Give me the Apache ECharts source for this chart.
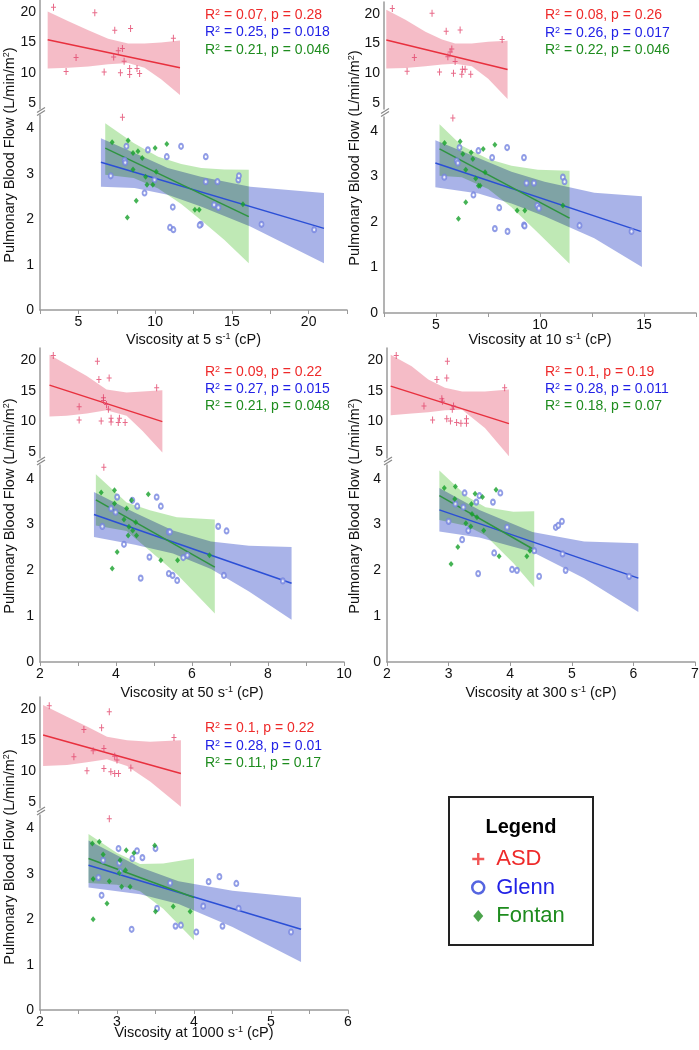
<!DOCTYPE html>
<html><head><meta charset="utf-8">
<script src="https://cdn.jsdelivr.net/npm/echarts/dist/echarts.min.js"></script>
<style>html,body{margin:0;padding:0;background:#fff}#c{width:699px;height:1050px}</style>
</head><body><div id="c"></div>
<script>
// ---------------- DATA ----------------
// Panel 1: 5 s^-1
const asd5 = [[3.38,20.8],[4.2,10.2],[4.85,12.5],[6.07,19.9],[6.68,10.1],[7.3,12.6],[7.37,17.0],[7.6,13.6],[7.74,10.0],[7.87,14.0],[7.98,11.9],[8.34,10.7],[8.34,9.7],[8.4,17.3],[8.82,10.7],[8.99,9.85],[11.19,15.7],[7.87,4.25]];
const glenn5 = [[7.11,2.96],[8.13,3.61],[8.02,3.30],[8.05,3.25],[9.53,3.53],[9.31,2.58],[9.96,2.87],[10.76,3.38],[11.69,3.61],[11.15,2.27],[10.97,1.82],[11.19,1.77],[12.98,1.89],[12.9,1.87],[13.3,3.38],[13.3,2.83],[14.06,2.83],[13.84,2.32],[14.12,2.26],[15.42,2.87],[15.46,2.96],[16.93,1.89],[20.36,1.77]];
const fontan5 = [[7.2,3.70],[8.24,3.74],[8.56,3.46],[8.88,3.50],[9.16,3.35],[8.56,3.10],[9.38,2.94],[9.47,2.76],[9.85,2.76],[10.0,3.57],[10.07,3.05],[10.76,3.66],[8.77,2.41],[8.19,2.04],[12.59,2.21],[12.87,2.21],[15.72,2.33]];
const asdFit5 = [[3.0,15.45],[11.62,10.8]];
const glennFit5 = [[6.47,3.26],[21.0,1.80]];
const fontanFit5 = [[6.75,3.57],[16.1,2.06]];
const asdBand5 = [[3.0,10.7,20.1],[4.35,10.8,18.5],[5.65,11.0,17.0],[6.94,11.4,15.6],[8.24,11.6,14.8],[9.31,10.8,14.8],[10.39,8.9,15.0],[11.62,6.3,15.3]];
const glennBand5 = [[6.47,2.72,3.79],[8.66,2.69,3.46],[10.82,2.54,3.13],[12.98,2.28,2.94],[16.2,1.84,2.72],[21.0,1.03,2.58]];
const fontanBand5 = [[6.75,2.98,4.12],[8.6,2.91,3.68],[10.2,2.68,3.38],[11.7,2.34,3.22],[13.0,1.98,3.13],[14.5,1.55,3.10],[16.1,1.03,3.09]];
const stats5 = [['0.07','0.28'],['0.25','0.018'],['0.21','0.046']];

// Panel 2: 10 s^-1
const asd10 = [[2.90,20.9],[3.61,10.36],[3.96,12.67],[4.81,20.1],[5.17,10.24],[5.49,17.1],[5.57,12.8],[5.68,13.6],[5.76,14.1],[5.84,10.0],[5.92,12.0],[6.16,17.3],[6.24,9.86],[6.27,10.7],[6.4,10.7],[6.67,9.86],[8.18,15.7],[5.81,4.28]];
const glenn10 = [[5.40,2.98],[6.13,3.63],[6.0,3.34],[6.05,3.29],[7.04,3.56],[6.8,2.59],[7.7,3.41],[8.42,3.63],[8.04,2.31],[7.83,1.85],[8.44,1.79],[9.23,3.41],[9.35,2.85],[9.71,2.85],[9.23,1.93],[9.26,1.91],[9.87,2.36],[9.95,2.30],[11.1,2.98],[11.18,2.88],[11.9,1.92],[14.4,1.79]];
const fontan10 = [[5.41,3.73],[6.16,3.76],[6.29,3.49],[6.69,3.52],[6.77,3.38],[6.43,3.14],[6.91,2.95],[7.04,2.79],[7.12,2.79],[7.27,3.6],[7.36,3.09],[7.83,3.69],[6.43,2.43],[6.08,2.07],[8.9,2.25],[9.27,2.25],[11.1,2.36]];
const asdFit10 = [[2.61,15.6],[8.44,10.64]];
const glennFit10 = [[4.97,3.29],[14.84,1.79]];
const fontanFit10 = [[5.17,3.60],[11.42,2.08]];
const asdBand10 = [[2.61,10.8,20.7],[3.53,10.9,19.0],[4.49,11.2,17.0],[5.29,11.5,15.7],[5.92,11.6,15.0],[6.72,11.2,15.0],[7.51,9.1,15.3],[8.44,5.7,15.5]];
const glennBand10 = [[4.97,2.76,3.79],[7.04,2.62,3.40],[8.63,2.40,3.10],[10.22,2.12,2.88],[12.61,1.64,2.64],[14.9,1.01,2.56]];
const fontanBand10 = [[5.17,3.01,4.14],[6.24,2.98,3.67],[7.51,2.72,3.38],[8.63,2.32,3.23],[9.9,1.76,3.14],[11.42,1.08,3.12]];
const stats10 = [['0.08','0.26'],['0.26','0.017'],['0.22','0.046']];

// Panel 3: 50 s^-1
const asd50 = [[2.35,20.77],[3.03,12.4],[3.03,10.2],[3.51,19.84],[3.55,16.85],[3.61,10.05],[3.67,13.87],[3.67,13.4],[3.75,12.77],[3.82,17.1],[3.8,11.96],[3.87,10.5],[3.87,9.9],[4.06,9.8],[4.09,10.5],[4.24,9.8],[5.07,15.5],[3.68,4.25]];
const glenn50 = [[3.64,2.96],[4.03,3.6],[3.87,3.35],[3.99,3.27],[4.56,3.4],[4.21,2.57],[5.07,3.6],[5.18,3.4],[4.88,2.29],[4.65,1.83],[5.39,2.84],[5.42,2.84],[5.39,1.93],[5.49,1.89],[5.61,1.78],[5.77,2.28],[5.88,2.33],[6.69,2.96],[6.91,2.86],[6.84,1.89],[8.39,1.77],[4.43,3.53]];
const fontan50 = [[3.61,3.7],[3.96,3.75],[3.96,3.46],[4.28,3.35],[4.21,3.11],[4.34,2.95],[4.44,2.87],[4.32,2.76],[4.54,2.76],[4.52,3.05],[4.41,3.53],[4.85,3.66],[4.03,2.4],[3.9,2.04],[5.18,2.22],[5.62,2.22],[6.46,2.33]];
const asdFit50 = [[2.25,15.92],[5.22,9.95]];
const glennFit50 = [[3.42,3.22],[8.62,1.72]];
const fontanFit50 = [[3.47,3.54],[6.6,2.07]];
const asdBand50 = [[2.25,10.8,20.9],[2.7,10.9,19.3],[3.23,11.3,17.4],[3.75,11.8,15.2],[4.28,10.9,14.7],[4.7,8.4,14.9],[5.22,4.9,15.1]];
const glennBand50 = [[3.42,2.73,3.71],[4.5,2.56,3.26],[5.5,2.37,2.87],[6.5,2.03,2.63],[7.5,1.54,2.54],[8.62,0.92,2.51]];
const fontanBand50 = [[3.47,2.98,4.10],[4.28,2.86,3.48],[4.89,2.43,3.31],[5.6,1.92,3.16],[6.6,1.06,3.11]];
const stats50 = [['0.09','0.22'],['0.27','0.015'],['0.21','0.048']];

// Panel 4: 300 s^-1
const asd300 = [[2.15,20.77],[2.6,12.5],[2.74,10.2],[2.81,16.85],[2.89,13.7],[2.9,13.3],[2.98,19.84],[2.97,17.1],[2.97,10.44],[3.03,10.05],[3.06,11.96],[3.08,12.5],[3.13,9.8],[3.2,9.67],[3.29,10.44],[3.29,9.67],[3.91,15.5],[3.0,4.35]];
const glenn300 = [[3.0,3.07],[3.26,3.69],[3.11,3.45],[3.24,3.38],[3.22,2.67],[3.45,3.49],[3.5,3.63],[3.72,3.49],[3.84,3.69],[3.74,2.38],[3.48,1.93],[3.32,2.87],[3.95,2.94],[4.03,2.02],[4.11,2.0],[4.39,2.43],[4.47,1.87],[4.74,2.94],[4.78,2.98],[4.84,3.07],[4.85,2.36],[4.9,2.0],[5.93,1.87]];
const fontan300 = [[2.93,3.8],[3.11,3.83],[3.1,3.56],[3.37,3.45],[3.38,3.23],[3.43,3.67],[3.55,3.6],[3.46,3.16],[3.28,3.03],[3.36,2.96],[3.57,2.87],[3.77,3.76],[3.15,2.51],[3.04,2.14],[3.82,2.31],[4.27,2.31],[4.32,2.43]];
const asdFit300 = [[2.06,15.76],[3.98,9.62]];
const glennFit300 = [[2.85,3.32],[6.08,1.83]];
const fontanFit300 = [[2.85,3.63],[4.39,2.45]];
const asdBand300 = [[2.06,11.0,20.9],[2.4,11.3,19.0],[2.67,11.5,16.85],[2.94,11.8,15.5],[3.22,11.9,14.9],[3.59,8.9,14.9],[3.98,4.3,15.2]];
const glennBand300 = [[2.85,2.85,3.80],[3.5,2.72,3.32],[4.36,2.40,2.84],[5.2,1.83,2.63],[6.08,1.09,2.59]];
const fontanBand300 = [[2.85,3.10,4.18],[3.3,2.97,3.61],[3.6,2.76,3.38],[4.05,2.16,3.28],[4.39,1.63,3.29]];
const stats300 = [['0.1','0.19'],['0.28','0.011'],['0.18','0.07']];

// Panel 5: 1000 s^-1
const asd1000 = [[2.12,20.6],[2.44,12.3],[2.61,10.03],[2.57,16.75],[2.69,13.3],[2.8,17.0],[2.83,10.4],[2.83,13.66],[2.9,19.6],[2.92,9.87],[2.97,12.4],[3.0,11.8],[2.97,9.6],[3.02,9.6],[3.18,10.5],[3.74,15.45],[2.9,4.22]];
const glenn1000 = [[2.76,2.92],[2.8,2.53],[2.82,3.3],[3.02,3.56],[3.03,3.24],[3.04,3.05],[3.2,3.34],[3.26,3.51],[3.33,3.36],[3.19,1.78],[3.5,3.56],[3.52,2.24],[3.69,2.8],[3.76,1.85],[3.83,1.87],[4.03,1.72],[4.12,2.29],[4.19,2.83],[4.33,2.94],[4.37,1.85],[4.55,2.79],[4.58,2.24],[5.26,1.72]];
const fontan1000 = [[2.68,3.67],[2.69,2.89],[2.69,2.0],[2.77,3.71],[2.82,3.43],[2.87,2.35],[2.9,2.84],[3.03,3.02],[3.04,3.3],[3.06,2.72],[3.12,3.52],[3.11,3.08],[3.17,2.72],[3.22,3.46],[3.49,3.63],[3.5,2.17],[3.73,2.28],[3.95,2.17]];
const asdFit1000 = [[2.04,15.83],[3.83,9.6]];
const glennFit1000 = [[2.63,3.19],[5.39,1.78]];
const fontanFit1000 = [[2.63,3.34],[4.0,2.48]];
const asdBand1000 = [[2.04,10.8,20.7],[2.35,10.96,18.8],[2.61,11.4,17.2],[2.87,11.9,15.55],[3.13,10.8,15.0],[3.43,8.3,14.74],[3.83,4.2,15.0]];
const glennBand1000 = [[2.63,2.70,3.74],[3.3,2.55,3.15],[3.8,2.34,2.84],[4.5,1.83,2.63],[5.39,1.06,2.48]];
const fontanBand1000 = [[2.63,2.80,3.88],[3.0,2.76,3.46],[3.3,2.62,3.22],[3.6,2.23,3.23],[4.0,1.54,3.34]];
const stats1000 = [['0.1','0.22'],['0.28','0.01'],['0.11','0.17']];

const groupNames = ['ASD','Glenn','Fontan'];
const shearRates = ['5','10','50','300','1000'];
const yAxisTitle = 'Pulmonary Blood Flow (L/min/m{s|2})';

// ---------------- STYLE / LAYOUT ----------------
const FONT = "'Liberation Sans', Arial, Helvetica, sans-serif";
const COL = {
  pt: ['#e2456c','#7585e0','#17a02a'],
  line: ['#e8303e','#2b4fd6','#2e9440'],
  band: ['#f5bcc7','#a9b3e8','#bfe9b5'],
  txt: ['#ee2a2a','#2222e6','#1e8c1e'],
  axis: '#9a9a9a', label: '#111'
};
const panels = [
  {asd:asd5, glenn:glenn5, fontan:fontan5, fits:[asdFit5,glennFit5,fontanFit5], bands:[asdBand5,glennBand5,fontanBand5], stats:stats5,
   x:{min:2.5,max:22.5,interval:2.5,every:5}, L:{left:40,width:307,tT:0,tH:109,bT:115,bH:195,gap:22,yx:10,yy:155,sx:205,sy:[15,32.5,50]}},
  {asd:asd10, glenn:glenn10, fontan:fontan10, fits:[asdFit10,glennFit10,fontanFit10], bands:[asdBand10,glennBand10,fontanBand10], stats:stats10,
   x:{min:2.5,max:17.5,interval:2.5,every:5}, L:{left:384,width:312,tT:2,tH:107,bT:117,bH:196,gap:19,yx:355,yy:158,sx:545,sy:[15,33,50]}},
  {asd:asd50, glenn:glenn50, fontan:fontan50, fits:[asdFit50,glennFit50,fontanFit50], bands:[asdBand50,glennBand50,fontanBand50], stats:stats50,
   x:{min:2,max:10,interval:1,every:2}, L:{left:40,width:304,tT:348,tH:110,bT:465,bH:197,gap:23,yx:10,yy:506,sx:205,sy:[371.7,389,406]}},
  {asd:asd300, glenn:glenn300, fontan:fontan300, fits:[asdFit300,glennFit300,fontanFit300], bands:[asdBand300,glennBand300,fontanBand300], stats:stats300,
   x:{min:2,max:7,interval:1,every:1}, L:{left:387,width:308,tT:348,tH:110,bT:465,bH:197,gap:23,yx:355,yy:506,sx:545,sy:[371.7,389,406]}},
  {asd:asd1000, glenn:glenn1000, fontan:fontan1000, fits:[asdFit1000,glennFit1000,fontanFit1000], bands:[asdBand1000,glennBand1000,fontanBand1000], stats:stats1000,
   x:{min:2,max:6,interval:0.5,every:1}, L:{left:40,width:308,tT:697,tH:111,bT:815,bH:195,gap:15,yx:10,yy:857,sx:205,sy:[728.3,745.7,762.7]}}
];

const SYM_PLUS = 'path://M2,0H3V7H2Z M0,3H5V4H0Z';
const symbols = [SYM_PLUS, 'emptyCircle', 'diamond'];
const symSizes = [[5,7],[4,5],[5,6]];

function isMult(v, e){ const r = v / e; return Math.abs(r - Math.round(r)) < 1e-6; }

function bandSeries(rows, xi, yi, fill){
  return {
    type:'custom', xAxisIndex:xi, yAxisIndex:yi, data:rows, z:1, silent:true, clip:true,
    encode:{x:0, y:[1,2]},
    renderItem:(params, api)=>{
      if (params.dataIndex !== 0) return null;
      const up = rows.map(r => api.coord([r[0], r[2]]));
      const lo = rows.slice().reverse().map(r => api.coord([r[0], r[1]]));
      return {type:'polygon', shape:{points: up.concat(lo)}, style:{fill: fill, blend:'multiply'}};
    }
  };
}

const grid = [], xAxis = [], yAxis = [], series = [], graphic = [];
const axisLineStyle = {color: COL.axis, width: 1.5};
panels.forEach((p, i) => {
  const L = p.L, ti = 2*i, bi = 2*i + 1;
  grid.push({left:L.left, top:L.tT, width:L.width, height:L.tH, containLabel:false, outerBoundsMode:'none'});
  grid.push({left:L.left, top:L.bT, width:L.width, height:L.bH, containLabel:false, outerBoundsMode:'none'});
  xAxis.push({type:'value', gridIndex:ti, min:p.x.min, max:p.x.max, interval:p.x.interval, show:false, splitLine:{show:false}});
  xAxis.push({type:'value', gridIndex:bi, min:p.x.min, max:p.x.max, interval:p.x.interval,
    axisLine:{show:true, onZero:false, lineStyle:axisLineStyle},
    axisTick:{show:true, length:4, lineStyle:{color:COL.axis, width:1}},
    axisLabel:{margin:5, fontSize:14, color:COL.label, fontFamily:FONT, showMinLabel:true, showMaxLabel:true,
      formatter: v => isMult(v, p.x.every) ? String(Math.round(v*100)/100) : ''},
    splitLine:{show:false},
    name:'Viscosity at ' + shearRates[i] + ' s{s|-1} (cP)', nameLocation:'middle', nameGap:L.gap, nameMoveOverlap:false,
    nameTextStyle:{fontSize:14.5, color:COL.label, fontFamily:FONT, rich:{s:{fontSize:9, fontFamily:FONT, verticalAlign:'top', color:COL.label}}}
  });
  yAxis.push({type:'value', gridIndex:ti, min:4, max:22, interval:1,
    axisLine:{show:true, onZero:false, lineStyle:axisLineStyle}, axisTick:{show:false},
    axisLabel:{margin:4, fontSize:14, color:COL.label, fontFamily:FONT, formatter: v => isMult(v,5) ? String(v) : ''},
    splitLine:{show:false}});
  yAxis.push({type:'value', gridIndex:bi, min:0, max:4.3, interval:1,
    axisLine:{show:true, onZero:false, lineStyle:axisLineStyle}, axisTick:{show:false},
    axisLabel:{margin:6, fontSize:14, color:COL.label, fontFamily:FONT, formatter: v => isMult(v,1) ? String(Math.round(v)) : ''},
    splitLine:{show:false}});

  series.push(bandSeries(p.bands[0], ti, ti, COL.band[0]));
  series.push(bandSeries(p.bands[2], bi, bi, COL.band[2]));
  series.push(bandSeries(p.bands[1], bi, bi, COL.band[1]));
  [0,1,2].forEach(g => {
    const ax = g === 0 ? ti : bi;
    series.push({type:'line', xAxisIndex:ax, yAxisIndex:ax, data:p.fits[g], symbol:'none', silent:true, z:3,
      lineStyle:{color:COL.line[g], width:1.5}});
  });
  const asdTop = p.asd.filter(d => d[1] >= 5), asdBot = p.asd.filter(d => d[1] < 5);
  const ptStyle = g => ({color: COL.pt[g], borderColor: COL.pt[g], borderWidth: g === 1 ? 0.9 : 0});
  series.push({type:'scatter', name:'ASD', xAxisIndex:ti, yAxisIndex:ti, data:asdTop, symbol:symbols[0], symbolSize:symSizes[0], itemStyle:ptStyle(0), z:4, silent:true});
  series.push({type:'scatter', name:'ASD', xAxisIndex:bi, yAxisIndex:bi, data:asdBot, symbol:symbols[0], symbolSize:symSizes[0], itemStyle:ptStyle(0), z:4, silent:true});
  series.push({type:'scatter', name:'Glenn', xAxisIndex:bi, yAxisIndex:bi, data:p.glenn, symbol:symbols[1], symbolSize:symSizes[1], itemStyle:ptStyle(1), z:4, silent:true});
  series.push({type:'scatter', name:'Fontan', xAxisIndex:bi, yAxisIndex:bi, data:p.fontan, symbol:symbols[2], symbolSize:symSizes[2], itemStyle:ptStyle(2), z:4, silent:true});

  graphic.push({type:'text', x:L.yx, y:L.yy, rotation:Math.PI/2, silent:true,
    style:{text:yAxisTitle, fontSize:14.5, fontFamily:FONT, fill:COL.label,
      align:'center', verticalAlign:'middle', textAlign:'center', textVerticalAlign:'middle',
      rich:{s:{fontSize:9, fontFamily:FONT, verticalAlign:'top', fill:COL.label}}}});
  p.stats.forEach((s, g) => {
    graphic.push({type:'text', x:L.sx, y:L.sy[g], silent:true,
      style:{text:'R{s|2} = ' + s[0] + ', p = ' + s[1], fontSize:14, fontFamily:FONT, fill:COL.txt[g],
        verticalAlign:'middle', textVerticalAlign:'middle',
        rich:{s:{fontSize:9, fontFamily:FONT, verticalAlign:'top', fill:COL.txt[g]}}}});
  });
  const bx = L.left + 1, by = (L.tT + L.tH + L.bT) / 2;
  graphic.push({type:'line', silent:true, shape:{x1:bx-4, y1:by+0.5, x2:bx+4, y2:by-4.5}, style:{stroke:'#888', lineWidth:1.2}});
  graphic.push({type:'line', silent:true, shape:{x1:bx-4, y1:by+3.5, x2:bx+4, y2:by-1.5}, style:{stroke:'#888', lineWidth:1.2}});
});

graphic.push({type:'rect', silent:true, shape:{x:449, y:797, width:144, height:148}, style:{fill:'none', stroke:'#222', lineWidth:2}});
graphic.push({type:'text', x:521, y:827, silent:true, style:{text:'Legend', fontSize:20, fontWeight:'bold', fontFamily:FONT, fill:'#000',
  align:'center', verticalAlign:'middle', textAlign:'center', textVerticalAlign:'middle'}});

const legendIcons = ['path://M4,0H6V4H10V6H6V10H4V6H0V4H4Z', 'path://M5,0A5,5 0 1,1 4.99,0Z', 'path://M5,0L10,6L5,12L0,6Z'];
const option = {
  animation:false,
  backgroundColor:'#fff',
  grid, xAxis, yAxis, series, graphic,
  legend:{
    left:471, top:848, orient:'vertical', padding:0, itemGap:6.5, itemWidth:26, itemHeight:12,
    selectedMode:false, symbolKeepAspect:true,
    textStyle:{fontSize:22, fontFamily:FONT},
    data: groupNames.map((n, g) => ({
      name:n, icon:legendIcons[g],
      itemStyle: g === 1 ? {color:'#fff', borderColor:'#2a3fd8', borderWidth:2.5} : {color:COL.txt[g], borderWidth:0},
      textStyle:{color:COL.txt[g], fontSize:22, fontFamily:FONT}
    }))
  }
};
const chart = echarts.init(document.getElementById('c'), null, {renderer:'canvas'});
chart.setOption(option);

// multiply-blend the confidence bands so overlaps darken like the original
(function applyBlend(){
  const zr = chart.getZr();
  const fills = COL.band.map(c => c.toLowerCase());
  zr.storage.getDisplayList(true).forEach(el => {
    if (el.type === 'polygon' && el.style && fills.indexOf(String(el.style.fill).toLowerCase()) >= 0) {
      el.style.blend = 'multiply';
      if (el.markRedraw) el.markRedraw();
    }
  });
  zr.refresh();
})();
</script></body></html>
